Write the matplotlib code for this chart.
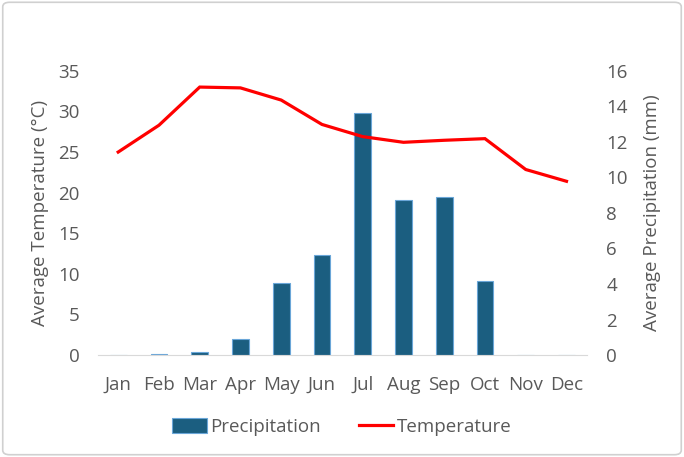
import matplotlib
matplotlib.use("Agg")
import matplotlib.pyplot as plt
from matplotlib.patches import FancyBboxPatch

months = ["Jan", "Feb", "Mar", "Apr", "May", "Jun",
          "Jul", "Aug", "Sep", "Oct", "Nov", "Dec"]
precip_mm = [0.0, 0.06, 0.2, 0.9, 4.06, 5.65, 13.63, 8.75, 8.92, 4.19, 0.0, 0.0]
temp_c = [25.0, 28.3, 33.0, 32.9, 31.4, 28.4, 26.9, 26.2, 26.45, 26.65, 22.85, 21.4]

plt.rcParams["font.family"] = ["Open Sans", "DejaVu Sans"]
text_col = "#595959"
fs = 13.5

fig = plt.figure(figsize=(6.84, 4.57), dpi=100)
fig.patches.append(FancyBboxPatch((0.004, 0.005), 0.992, 0.99,
                                  boxstyle="round,pad=0,rounding_size=0.01",
                                  transform=fig.transFigure, fill=False,
                                  edgecolor="#d0d0d0", linewidth=1.2))

ax = fig.add_axes([0.143, 0.223, 0.715, 0.622])
ax2 = ax.twinx()

x = list(range(len(months)))
bars = ax2.bar(x, precip_mm, width=0.41, color="#1b5e80",
               edgecolor="#6aa6d8", linewidth=0.8, label="Precipitation")
line, = ax.plot(x, temp_c, color="#ff0000", linewidth=2.3,
                solid_joinstyle="miter", label="Temperature")
ax.set_zorder(ax2.get_zorder() + 1)
ax.patch.set_visible(False)

ax.set_xlim(-0.5, 11.5)
ax.set_ylim(0, 35)
ax.set_yticks(range(0, 36, 5))
ax2.set_ylim(0, 16)
ax2.set_yticks(range(0, 17, 2))
ax.set_xticks(x)
ax.set_xticklabels(months)

for a in (ax, ax2):
    for s in a.spines.values():
        s.set_visible(False)
    a.tick_params(length=0, labelsize=fs, colors=text_col)
ax.spines["bottom"].set_visible(True)
ax.spines["bottom"].set_color("#d9d9d9")
ax.tick_params(axis="y", pad=13)
ax2.tick_params(axis="y", pad=14)
ax.tick_params(axis="x", pad=15)

ax.set_ylabel("Average Temperature (°C)", fontsize=fs, color=text_col, labelpad=7)
ax2.set_ylabel("Average Precipitation (mm)", fontsize=fs, color=text_col, labelpad=11)

leg = fig.legend([bars, line], ["Precipitation", "Temperature"], loc="center",
                 bbox_to_anchor=(0.5, 0.066), ncol=2, frameon=False,
                 fontsize=fs, handlelength=1.85, handleheight=0.85,
                 handletextpad=0.2, columnspacing=2.0)
for t in leg.get_texts():
    t.set_color(text_col)

fig.savefig("out.png", dpi=100, facecolor="white")
